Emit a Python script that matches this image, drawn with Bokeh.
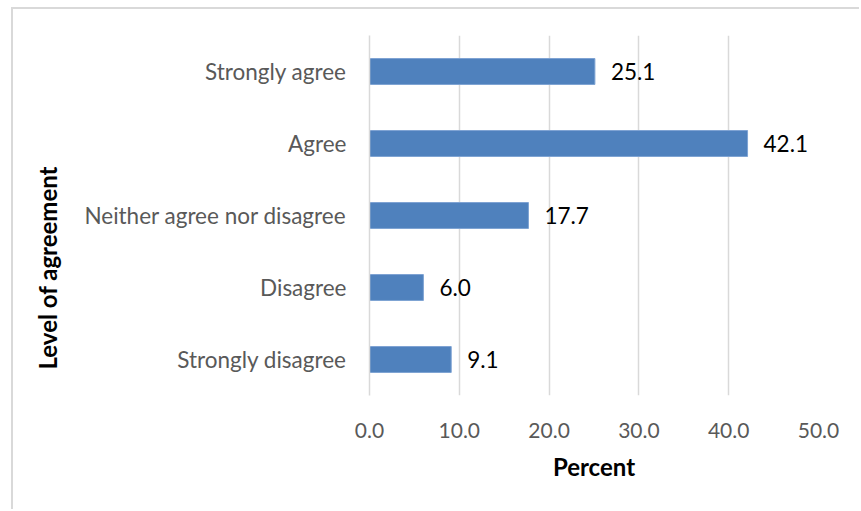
from bokeh.plotting import figure
from bokeh.models import FactorRange, Range1d, ColumnDataSource, FixedTicker, LabelSet, CustomJSTickFormatter, Title
from bokeh.core.properties import value
from bokeh.embed import file_html
from bokeh.resources import INLINE

categories = ["Strongly disagree", "Disagree", "Neither agree nor disagree", "Agree", "Strongly agree"]
percent = [9.1, 6.0, 17.7, 42.1, 25.1]
x_ticks = [0, 10, 20, 30, 40, 50]

FONT = "Lato"

src = ColumnDataSource(dict(cat=categories, val=percent, lab=["%.1f" % v for v in percent]))

p = figure(width=848, height=502, y_range=FactorRange(factors=categories, range_padding=0),
           x_range=Range1d(0, 50), output_backend="svg", toolbar_location=None,
           min_border_left=356, min_border_right=43, min_border_top=26, min_border_bottom=116,
           margin=(7, 0, 0, 11))
p.styles = {"border-top": "2px solid #d9d9d9", "border-left": "2px solid #d9d9d9"}
p.outline_line_color = None

p.hbar(y="cat", right="val", left=0, height=0.36, source=src,
       fill_color="#4F81BD", line_color="#7EA3D3", line_width=1)

labels = LabelSet(x="val", y="cat", text="lab", source=src, x_offset=16, y_offset=0,
                  text_baseline="middle", text_font=value(FONT), text_font_size="22.5px",
                  text_color="#000000")
p.add_layout(labels)

p.xaxis.ticker = FixedTicker(ticks=x_ticks)
p.xaxis.formatter = CustomJSTickFormatter(code="return tick.toFixed(1);")
p.xaxis.axis_line_color = None
p.xaxis.major_tick_line_color = None
p.xaxis.minor_tick_line_color = None
p.xaxis.major_label_standoff = 21
p.xaxis.major_label_text_font = FONT
p.xaxis.major_label_text_font_size = "21px"
p.xaxis.major_label_text_color = "#595959"
p.xaxis.axis_label = "Percent"
p.xaxis.axis_label_text_font = FONT
p.xaxis.axis_label_text_font_size = "24px"
p.xaxis.axis_label_text_font_style = "bold"
p.xaxis.axis_label_text_color = "#000000"
p.xaxis.axis_label_standoff = 11

p.yaxis.axis_line_color = "#d9d9d9"
p.yaxis.axis_line_width = 1.5
p.yaxis.major_tick_line_color = None
p.yaxis.minor_tick_line_color = None
p.yaxis.major_label_standoff = 17
p.yaxis.major_label_text_font = FONT
p.yaxis.major_label_text_font_size = "22.5px"
p.yaxis.major_label_text_color = "#595959"

ytitle = Title(text="Level of agreement", align="left", offset=26, standoff=36,
               vertical_align="top",
               text_font=FONT, text_font_size="24px", text_font_style="bold",
               text_color="#000000")
p.add_layout(ytitle, "left")

p.ygrid.grid_line_color = None
p.xgrid.grid_line_color = "#d9d9d9"
p.xgrid.grid_line_width = 1.5
p.xgrid.ticker = FixedTicker(ticks=x_ticks)

open("out.html", "w").write(file_html(p, INLINE))
